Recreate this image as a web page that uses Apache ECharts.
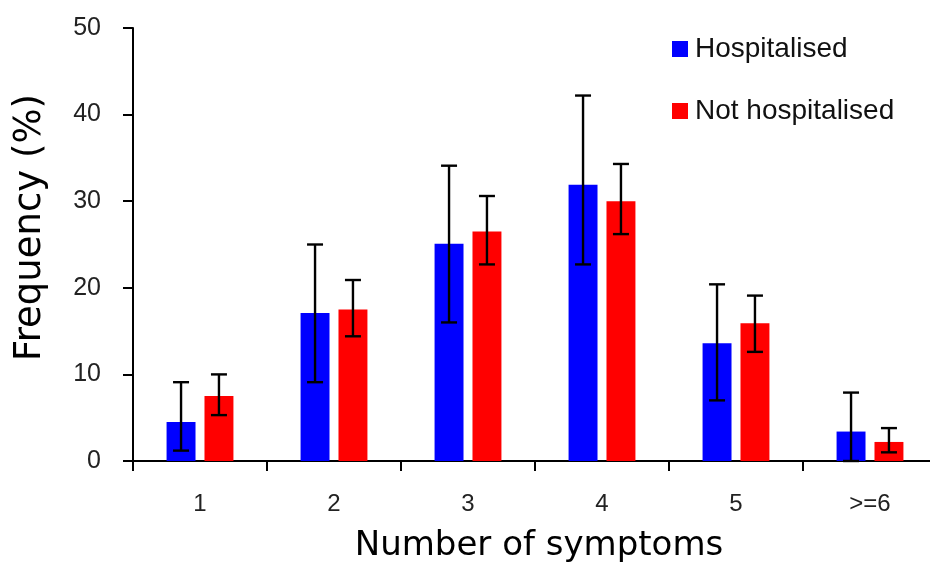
<!DOCTYPE html>
<html>
<head>
<meta charset="utf-8">
<script src="https://cdn.jsdelivr.net/npm/echarts@6/dist/echarts.min.js"></script>
<style>html,body{margin:0;padding:0;background:#fff}#c{width:930px;height:565px}</style>
</head>
<body>
<div id="c"></div>
<script>
var categories = ['1', '2', '3', '4', '5', '>=6'];
var hospitalised = [4.5, 17.1, 25.1, 31.9, 13.6, 3.4];
var hospitalisedLow = [1.2, 9.1, 16.0, 22.7, 7.0, 0.0];
var hospitalisedHigh = [9.1, 25.0, 34.1, 42.2, 20.4, 7.9];
var notHospitalised = [7.5, 17.5, 26.5, 30.0, 15.9, 2.2];
var notHospitalisedLow = [5.3, 14.4, 22.7, 26.2, 12.6, 1.0];
var notHospitalisedHigh = [10.0, 20.9, 30.6, 34.3, 19.1, 3.8];
var yTicks = [0, 10, 20, 30, 40, 50];

var BAR_FRAC = 0.216, GAP_FRAC = 0.31;

function errData(lo, hi) {
  return categories.map(function (c, i) { return [i, lo[i], hi[i]]; });
}
function errRender(sign) {
  return function (params, api) {
    var idx = api.value(0);
    var bw = api.size([1, 0])[0];
    var barW = bw * BAR_FRAC;
    var off = sign * barW * (1 + GAP_FRAC) / 2;
    var pLo = api.coord([idx, api.value(1)]);
    var pHi = api.coord([idx, api.value(2)]);
    var x = pLo[0] + off;
    var cap = 8;
    var style = { stroke: '#000', lineWidth: 2.4 };
    return {
      type: 'group',
      children: [
        { type: 'line', shape: { x1: x, y1: pLo[1], x2: x, y2: pHi[1] }, style: style },
        { type: 'line', shape: { x1: x - cap, y1: pHi[1], x2: x + cap, y2: pHi[1] }, style: style },
        { type: 'line', shape: { x1: x - cap, y1: pLo[1], x2: x + cap, y2: pLo[1] }, style: style }
      ]
    };
  };
}

var chart = echarts.init(document.getElementById('c'), null, { renderer: 'canvas' });
chart.setOption({
  animation: false,
  backgroundColor: '#fff',
  grid: { left: 133, top: 28, bottom: 104, right: -7, containLabel: false, outerBoundsMode: 'none' },
  legend: {
    orient: 'vertical',
    left: 667,
    top: 30,
    itemWidth: 16,
    itemHeight: 16,
    itemGap: 34,
    icon: 'rect',
    textStyle: { fontFamily: 'Liberation Sans', fontSize: 28, color: '#111', padding: [0, 0, 0, 2] },
    data: ['Hospitalised', 'Not hospitalised']
  },
  graphic: [{
    type: 'text',
    left: 12,
    top: 94,
    rotation: Math.PI / 2,
    style: { text: 'Frequency (%)', font: '37px "DejaVu Sans"', fill: '#000' }
  }],
  xAxis: {
    type: 'category',
    data: categories,
    name: 'Number of symptoms',
    nameLocation: 'middle',
    nameGap: 68,
    nameTextStyle: { fontFamily: 'DejaVu Sans', fontSize: 34, color: '#000', padding: [0, 0, 0, 8] },
    axisLine: { lineStyle: { color: '#000', width: 2 } },
    axisTick: { show: true, inside: false, length: 10, lineStyle: { color: '#000', width: 2 } },
    axisLabel: { fontFamily: 'Liberation Sans', fontSize: 24, color: '#222', margin: 31 },
    splitLine: { show: false }
  },
  yAxis: {
    type: 'value',
    min: yTicks[0],
    max: yTicks[yTicks.length - 1],
    interval: 10,
    axisLine: { show: true, lineStyle: { color: '#000', width: 2 } },
    axisTick: { show: true, inside: false, length: 10, lineStyle: { color: '#000', width: 2 } },
    axisLabel: { fontFamily: 'Liberation Sans', fontSize: 25, color: '#222', margin: 32 },
    splitLine: { show: false }
  },
  series: [
    {
      name: 'Hospitalised', type: 'bar', data: hospitalised,
      barWidth: (BAR_FRAC * 100) + '%', barGap: (GAP_FRAC * 100) + '%',
      itemStyle: { color: '#0000ff' }
    },
    {
      name: 'Not hospitalised', type: 'bar', data: notHospitalised,
      barWidth: (BAR_FRAC * 100) + '%', barGap: (GAP_FRAC * 100) + '%',
      itemStyle: { color: '#ff0000' }
    },
    {
      type: 'custom', renderItem: errRender(-1), data: errData(hospitalisedLow, hospitalisedHigh),
      encode: { x: 0, y: [1, 2] }, z: 10, silent: true
    },
    {
      type: 'custom', renderItem: errRender(1), data: errData(notHospitalisedLow, notHospitalisedHigh),
      encode: { x: 0, y: [1, 2] }, z: 10, silent: true
    }
  ]
});
</script>
</body>
</html>
